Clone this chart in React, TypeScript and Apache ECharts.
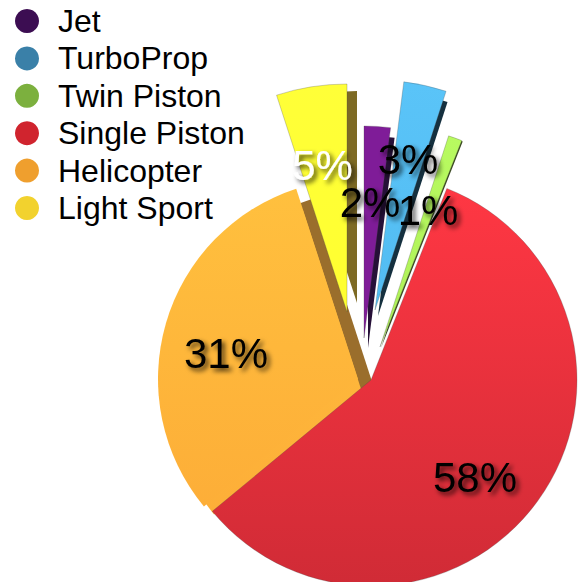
import React, { useEffect, useRef } from "react";
import * as echarts from "echarts";

const categories = ["Jet", "TurboProp", "Twin Piston", "Single Piston", "Helicopter", "Light Sport"];
const shares = [2, 3, 1, 58, 31, 5];
const legendColors = ["#3c0d52", "#3a80a8", "#7cb03e", "#d0242e", "#ef9f2e", "#f2d22e"];
const sliceTop = ["#7f1c98", "#5ac4f8", "#b8fa60", "#ff3743", "#ffc03e", "#ffff38"];
const sliceBottom = ["#7f1c98", "#52bcf2", "#aef058", "#d02b36", "#fdae38", "#ffff30"];
const shadeColors = ["#261038", "#15303f", "#3a4a20", "", "#9a6e2c", "#7d6a24"];
const borderWidths = [0.6, 0.6, 0.6, 0.6, 0, 0.6];

// layout of each wedge: [centre x, centre y, radius]
const wedges = [[364, 338, 212], [375, 310, 230], [380, 347, 222], [371, 380, 206], [358, 379, 200], [347, 312, 228]];
const shades = [[368, 348, 212], [378, 316, 225], [381, 348, 222], null, [374.4, 389, 200], [357, 303, 212]];
const fills: Record<number, number[]> = { 4: [362, 392, 192] };
const labelCentres = [[370, 202], [408, 159], [428, 210], [475, 477], [226, 353], [322.5, 165]];
const labelColors = ["#000", "#000", "#000", "#000", "#000", "#fff"];
const drawOrder = [4, 5, 0, 1, 2, 3];

const TOTAL = shares.reduce((a, b) => a + b, 0);

function startAngleOf(i: number) {
  const before = shares.slice(0, i).reduce((a, b) => a + b, 0);
  return (90 - (before / TOTAL) * 360 + 360) % 360;
}

const gradientOf = (i: number) =>
  new echarts.graphic.LinearGradient(0, 0, 0, 1, [
    { offset: 0, color: sliceTop[i] },
    { offset: 1, color: sliceBottom[i] },
  ]);

const blank = (i: number) => ({
  value: TOTAL - shares[i],
  name: "rest-" + i,
  itemStyle: { color: "rgba(0,0,0,0)", borderWidth: 0 },
  label: { show: false },
  labelLine: { show: false },
});

function backSeries(i: number, g: number[], color: any, tag: string) {
  return {
    type: "pie",
    silent: true,
    clockwise: true,
    startAngle: startAngleOf(i),
    center: [g[0], g[1]],
    radius: g[2],
    label: { show: false },
    labelLine: { show: false },
    data: [
      { value: shares[i], name: tag + "-" + i, itemStyle: { color } },
      blank(i),
    ],
  };
}

function sliceSeries(i: number) {
  const w = wedges[i];
  return {
    type: "pie",
    silent: true,
    clockwise: true,
    startAngle: startAngleOf(i),
    center: [w[0], w[1]],
    radius: w[2],
    avoidLabelOverlap: false,
    labelLine: { show: false },
    labelLayout: () => ({
      x: labelCentres[i][0],
      y: labelCentres[i][1],
      align: "center",
      verticalAlign: "middle",
    }),
    data: [
      {
        value: shares[i],
        name: categories[i],
        itemStyle: {
          color: gradientOf(i),
          borderColor: "rgba(70,70,70,0.45)",
          borderWidth: borderWidths[i],
        },
        label: {
          show: true,
          position: "inside",
          formatter: "{c}%",
          fontFamily: "Liberation Sans",
          fontSize: 42,
          color: labelColors[i],
          textBorderWidth: 0,
          textShadowColor: "rgba(0,0,0,0.75)",
          textShadowBlur: 5,
          textShadowOffsetX: 3,
          textShadowOffsetY: 3,
        },
      },
      blank(i),
    ],
  };
}

export default function App() {
  const ref = useRef<HTMLDivElement>(null);
  useEffect(() => {
    const chart = echarts.init(ref.current!, undefined, { renderer: "svg" });
    const series: any[] = [];
    drawOrder.forEach((i) => {
      const sh = shades[i];
      if (sh) series.push(backSeries(i, sh, shadeColors[i], "shade"));
      if (fills[i]) series.push(backSeries(i, fills[i], gradientOf(i), "fill"));
      series.push(sliceSeries(i));
    });
    chart.setOption({
      animation: false,
      backgroundColor: "#fff",
      legend: {
        show: true,
        orient: "vertical",
        left: 10,
        top: 0,
        itemWidth: 26,
        itemHeight: 24,
        itemGap: 5.4,
        icon: "circle",
        selectedMode: false,
        textStyle: {
          fontFamily: "Liberation Sans",
          fontSize: 32,
          lineHeight: 24,
          color: "#000",
          padding: [0, 0, 0, 13],
        },
        data: categories.map((name, i) => ({ name, itemStyle: { color: legendColors[i], borderWidth: 0 } })),
      },
      series,
    });
    return () => chart.dispose();
  }, []);
  return <div ref={ref} style={{ position: "absolute", left: 0, top: 0, width: 581, height: 582 }} />;
}
